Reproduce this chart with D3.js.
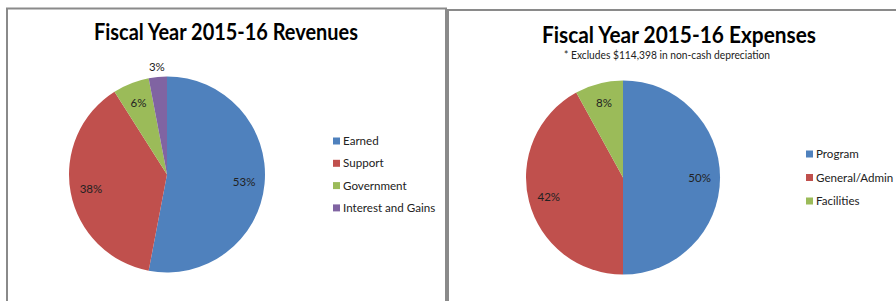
<!DOCTYPE html>
<html>
<head>
<meta charset="utf-8">
<script src="https://cdn.jsdelivr.net/npm/d3@7"></script>
<style>
  html, body { margin: 0; padding: 0; background: #fff; }
  svg { display: block; font-family: Lato, "Open Sans", sans-serif; }
</style>
</head>
<body>
<svg id="chart" width="896" height="301"></svg>
<script>
// ---- Data ----
const revenueCategories = ["Earned", "Support", "Government", "Interest and Gains"];
const revenueValues = [53, 38, 6, 3];
const expenseCategories = ["Program", "General/Admin", "Facilities"];
const expenseValues = [50, 42, 8];
const palette = ["#4F81BD", "#C0504D", "#9BBB59", "#8064A2"];

const svg = d3.select("#chart");

function fitText(sel, target) {
  const w = sel.node().getComputedTextLength();
  if (w > target) sel.attr("textLength", target).attr("lengthAdjust", "spacingAndGlyphs");
}

function drawPanel(cfg) {
  const g = svg.append("g");
  g.append("rect")
    .attr("x", cfg.frame[0]).attr("y", cfg.frame[1])
    .attr("width", cfg.frame[2]).attr("height", cfg.frame[3])
    .attr("fill", "#fff").attr("stroke", "#8a8a8a").attr("stroke-width", 2);

  const t = g.append("text")
    .attr("x", cfg.titleX).attr("y", cfg.titleY)
    .attr("text-anchor", "middle")
    .attr("font-size", 22).attr("font-weight", "bold").attr("fill", "#000")
    .text(cfg.title);
  fitText(t, cfg.titleW);

  if (cfg.subtitle) {
    const s = g.append("text")
      .attr("x", cfg.titleX - 12).attr("y", cfg.subY)
      .attr("text-anchor", "middle")
      .attr("font-size", 10.5).attr("fill", "#222")
      .text(cfg.subtitle);
    fitText(s, cfg.subW);
  }

  const pie = d3.pie().sort(null).value(d => d)
    .startAngle(0).endAngle(2 * Math.PI);
  const arcs = pie(cfg.values);
  const arc = d3.arc().innerRadius(0).outerRadius(cfg.r);
  const pg = g.append("g").attr("transform", `translate(${cfg.cx},${cfg.cy})`);
  pg.selectAll("path").data(arcs).join("path")
    .attr("d", arc)
    .attr("fill", (d, i) => palette[i]);

  const color = d3.scaleOrdinal().domain(cfg.categories).range(palette);

  pg.selectAll("text.lbl").data(arcs).join("text")
    .attr("class", "lbl")
    .attr("transform", d => {
      const small = (d.endAngle - d.startAngle) < 0.25;
      const rr = small ? cfg.r * 1.1 : cfg.r * 0.79;
      const a = (d.startAngle + d.endAngle) / 2;
      return `translate(${Math.sin(a) * rr},${-Math.cos(a) * rr})`;
    })
    .attr("text-anchor", "middle").attr("dy", "0.35em")
    .attr("font-size", 11.5).attr("fill", "#222")
    .text(d => d.value + "%");

  const y = d3.scalePoint().domain(cfg.categories)
    .range([cfg.legY0, cfg.legY0 + cfg.legStep * (cfg.categories.length - 1)]);
  const lg = g.append("g");
  const items = lg.selectAll("g").data(cfg.categories).join("g")
    .attr("transform", d => `translate(${cfg.legX},${y(d)})`);
  items.append("rect").attr("x", 0).attr("y", -3.5).attr("width", 7).attr("height", 7)
    .attr("fill", d => color(d));
  items.append("text").attr("x", 10).attr("dy", "0.36em")
    .attr("font-size", 11.6).attr("fill", "#222")
    .text(d => d);
}

drawPanel({
  frame: [7, 8.5, 439, 310],
  title: "Fiscal Year 2015-16 Revenues", titleX: 226, titleY: 40, titleW: 264,
  categories: revenueCategories, values: revenueValues,
  cx: 167, cy: 174.5, r: 98,
  legX: 333, legY0: 141, legStep: 22.3
});

drawPanel({
  frame: [448, 10, 460, 310],
  title: "Fiscal Year 2015-16 Expenses", titleX: 679, titleY: 43, titleW: 274,
  subtitle: "* Excludes $114,398 in non-cash depreciation", subY: 59, subW: 206,
  categories: expenseCategories, values: expenseValues,
  cx: 623, cy: 177.5, r: 97,
  legX: 806, legY0: 154, legStep: 23.5
});
</script>
</body>
</html>
